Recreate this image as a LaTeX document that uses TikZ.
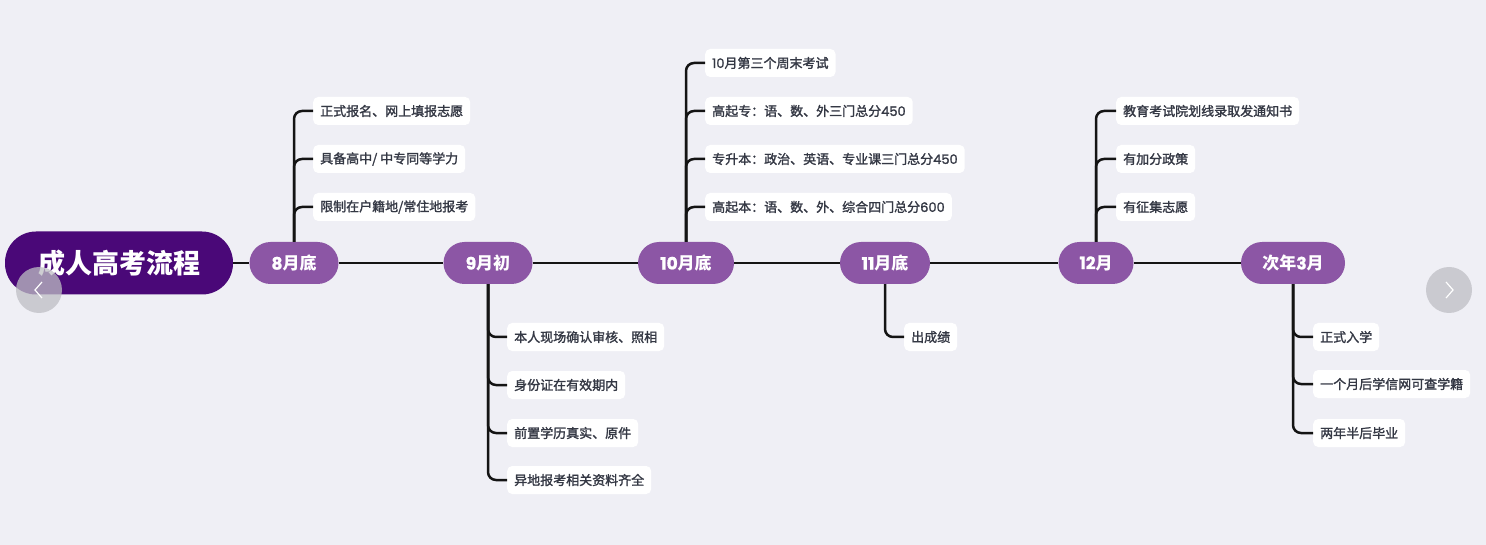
\documentclass[tikz,border=0pt]{standalone}
\usepackage{fontspec}
\setmainfont{Noto Sans CJK SC}
\newfontfamily\itemfont{Noto Sans CJK SC}[FakeBold=1.6]
\newfontfamily\popb{Poppins}[FakeBold=1.2]
\newfontfamily\popi{Poppins}[FakeBold=1.6]
\definecolor{bgc}{RGB}{239,239,245}
\definecolor{rootc}{RGB}{74,8,120}
\definecolor{monthc}{RGB}{140,86,165}
\definecolor{itemtxt}{RGB}{52,56,68}
\definecolor{navc}{RGB}{190,190,196}
\tikzset{
  rootbox/.style={fill=rootc, text=white, rounded corners=31pt, minimum height=63pt, inner xsep=33pt, font=\fontsize{27}{30}\selectfont\bfseries},
  monthbox/.style={fill=monthc, text=white, rounded corners=21pt, minimum height=42pt, minimum width=89pt, inner xsep=18pt, font=\fontsize{17}{19}\selectfont\bfseries},
  itembox/.style={fill=white, text=itemtxt, rounded corners=5pt, minimum height=28pt, inner xsep=7pt, anchor=west, font=\fontsize{13}{15}\selectfont\itemfont},
  link/.style={line width=2.5pt, black!92, rounded corners=8pt},
  navcirc/.style={fill=navc, opacity=0.75, draw=none},
  chev/.style={white, line width=1.2pt}
}
\begin{document}
\begin{tikzpicture}[x=1pt,y=-1pt]
\fill[bgc] (0,0) rectangle (1486,545);
\useasboundingbox (0,0) rectangle (1486,545);

% main nodes
\node[rootbox] (root) at (119,263) {成人高考流程};
\node[monthbox] (m8) at (294,263) {{\popb 8}月底};
\node[monthbox] (m9) at (488,263) {{\popb 9}月初};
\node[monthbox, minimum width=96pt] (m10) at (686,263) {{\popb 10}月底};
\node[monthbox, minimum width=90pt] (m11) at (885,263) {{\popb 11}月底};
\node[monthbox, minimum width=75pt] (m12) at (1096,263) {{\popb 12}月};
\node[monthbox, minimum width=104pt] (m3) at (1293,263) {次年{\popb 3}月};

\draw[link] (root) -- (m8);
\draw[link] (m8) -- (m9);
\draw[link] (m9) -- (m10);
\draw[link] (m10) -- (m11);
\draw[link] (m11) -- (m12);
\draw[link] (m12) -- (m3);

% 8月底
\node[itembox] (a1) at (313,111) {正式报名、网上填报志愿};
\node[itembox] (a2) at (313,159) {具备高中/ 中专同等学力};
\node[itembox] (a3) at (313,207) {限制在户籍地/常住地报考};
\foreach \n in {a1,a2,a3} \draw[link] (m8.north) |- (\n.west);

% 9月初
\node[itembox] (b1) at (507,337) {本人现场确认审核、照相};
\node[itembox] (b2) at (507,385) {身份证在有效期内};
\node[itembox] (b3) at (507,433) {前置学历真实、原件};
\node[itembox] (b4) at (507,480) {异地报考相关资料齐全};
\foreach \n in {b1,b2,b3,b4} \draw[link] (m9.south) |- (\n.west);

% 10月底
\node[itembox] (c1) at (705,63) {{\popi 10}月第三个周末考试};
\node[itembox] (c2) at (705,111) {高起专：语、数、外三门总分{\popi 450}};
\node[itembox] (c3) at (705,159) {专升本：政治、英语、专业课三门总分{\popi 450}};
\node[itembox] (c4) at (705,207) {高起本：语、数、外、综合四门总分{\popi 600}};
\foreach \n in {c1,c2,c3,c4} \draw[link] (m10.north) |- (\n.west);

% 11月底
\node[itembox] (d1) at (904,337) {出成绩};
\draw[link] (m11.south) |- (d1.west);

% 12月
\node[itembox] (e1) at (1116,111) {教育考试院划线录取发通知书};
\node[itembox] (e2) at (1116,159) {有加分政策};
\node[itembox] (e3) at (1116,207) {有征集志愿};
\foreach \n in {e1,e2,e3} \draw[link] (m12.north) |- (\n.west);

% 次年3月
\node[itembox] (f1) at (1313,337) {正式入学};
\node[itembox] (f2) at (1313,384) {一个月后学信网可查学籍};
\node[itembox] (f3) at (1313,433) {两年半后毕业};
\foreach \n in {f1,f2,f3} \draw[link] (m3.south) |- (\n.west);

% navigation circles
\fill[navcirc] (39,290) circle (23);
\draw[chev] (42,282) -- (35,290) -- (42,298);
\fill[navcirc] (1449,290) circle (23);
\draw[chev] (1446,282) -- (1453,290) -- (1446,298);
\end{tikzpicture}
\end{document}
